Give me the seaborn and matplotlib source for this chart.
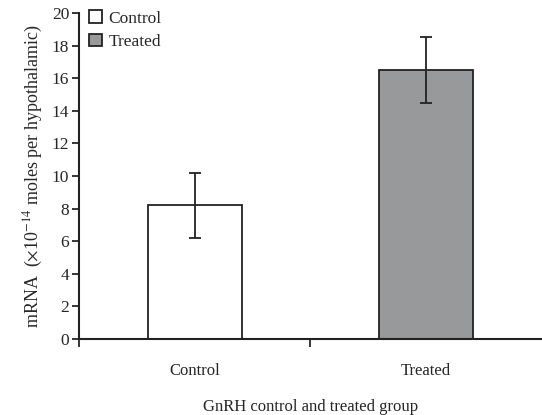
import matplotlib
matplotlib.use("Agg")
import matplotlib.pyplot as plt
import seaborn as sns
import pandas as pd
import numpy as np

groups = ["Control", "Treated"]
means = [8.2, 16.5]
errors = [2.0, 2.0]
colors = ["#ffffff", "#98999b"]

sns.set_style("white")
plt.rcParams["font.family"] = ["Liberation Serif", "DejaVu Serif"]
plt.rcParams["mathtext.fontset"] = "stix"

df = pd.DataFrame({"group": groups, "mean": means})

fig = plt.figure(figsize=(5.42, 4.15), dpi=100)
ax = fig.add_axes([0.1458, 0.183, 0.854, 0.7857])

sns.barplot(data=df, x="group", y="mean", hue="group", palette=colors,
            dodge=False, width=0.405, edgecolor="#222222", linewidth=1.3,
            legend=False, ax=ax)
ax.errorbar(x=np.arange(len(groups)), y=means, yerr=errors, fmt="none",
            ecolor="#222222", elinewidth=1.3, capsize=4, capthick=1.3)

ax.set_xlim(-0.5, 1.5)
ax.set_ylim(0, 20)
ax.set_yticks(np.arange(0, 21, 2))
ax.tick_params(axis="y", direction="out", length=5, width=1.3, labelsize=12.5, pad=2, left=True)
ax.set_xticks([0, 1])
ax.set_xticklabels(groups)
ax.tick_params(axis="x", which="major", length=0, labelsize=12, pad=17)
ax.set_xticks([-0.5, 0.5], minor=True)
ax.tick_params(axis="x", which="minor", direction="out", length=6, width=1.3, bottom=True)

for s in ["top", "right"]:
    ax.spines[s].set_visible(False)
for s in ["left", "bottom"]:
    ax.spines[s].set_linewidth(1.5)
    ax.spines[s].set_color("#222222")

ax.set_xlabel("GnRH control and treated group", fontsize=12, labelpad=15)
ax.set_ylabel(r"mRNA  ($\times$10$^{-14}$ moles per hypothalamic)", fontsize=13, labelpad=5)

from matplotlib.patches import Patch
handles = [Patch(facecolor=c, edgecolor="#222222", linewidth=1.3) for c in colors]
ax.legend(handles, groups, loc="upper left", bbox_to_anchor=(0.0, 1.04), frameon=False,
          fontsize=12.5, handlelength=0.75, handleheight=0.75, handletextpad=0.35,
          labelspacing=0.4, borderaxespad=0.2)

fig.savefig("out.png", dpi=100)
